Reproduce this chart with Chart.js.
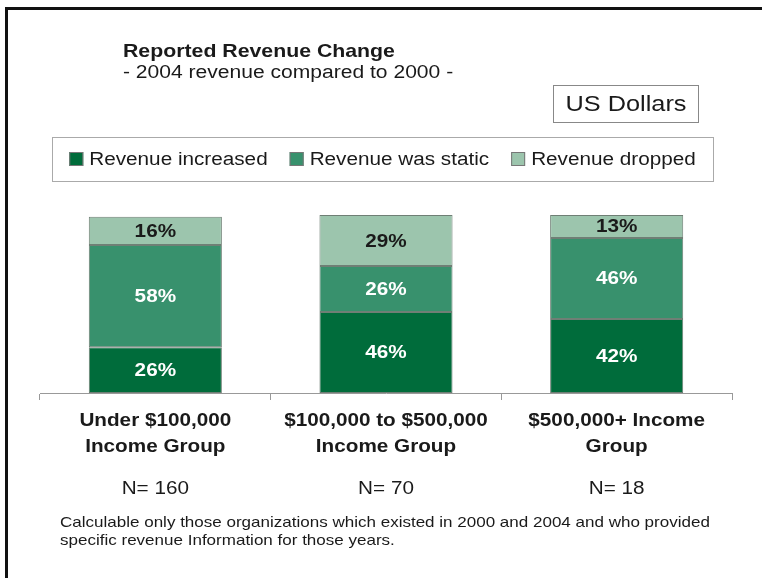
<!DOCTYPE html>
<html>
<head>
<meta charset="utf-8">
<title>Reported Revenue Change</title>
<script src="https://cdn.jsdelivr.net/npm/chart.js@4"></script>
<style>
  body { margin: 0; background: #fff; }
  #wrap { position: relative; width: 762px; height: 578px; }
</style>
</head>
<body>
<div id="wrap"><canvas id="revChart" width="762" height="578"></canvas></div>
<script>
// data
const groups = [['Under $100,000', 'Income Group'], ['$100,000 to $500,000', 'Income Group'], ['$500,000+ Income', 'Group']];
const sampleSizes = ['N= 160', 'N= 70', 'N= 18'];
const increased = [26, 46, 42];
const staticRev = [58, 26, 46];
const dropped = [16, 29, 13];

const FONT = 'Arial, "Liberation Sans", Helvetica, sans-serif';
const TXT = '#1a1a1a';
const SX = 1.15; // the source lettering is stretched sideways

// draw text squeezed/stretched horizontally around its anchor
function wideText(ctx, text, x, y, align, sx) {
    ctx.save();
    ctx.translate(x, y);
    ctx.scale(sx || SX, 1);
    ctx.textAlign = align;
    ctx.textBaseline = 'middle';
    ctx.fillText(text, 0, 0);
    ctx.restore();
}

const decorations = {
    id: 'decorations',
    beforeDraw(chart) {
        const ctx = chart.ctx;
        // frame (top and left only)
        ctx.save();
        ctx.fillStyle = '#111';
        ctx.fillRect(5, 7, 757, 3);
        ctx.fillRect(5, 7, 3, 571);
        ctx.restore();
    },
    afterDatasetsDraw(chart) {
        const ctx = chart.ctx;
        ctx.save();
        ctx.font = 'bold 18px ' + FONT;
        chart.data.datasets.forEach((ds, di) => {
            chart.getDatasetMeta(di).data.forEach((bar, i) => {
                ctx.fillStyle = di === 2 ? TXT : '#fff';
                wideText(ctx, ds.data[i] + '%', bar.x, (bar.y + bar.base) / 2 + 1, 'center');
            });
        });
        ctx.restore();
    },
    afterDraw(chart) {
        const ctx = chart.ctx;
        const x = chart.scales.x;
        ctx.save();
        ctx.fillStyle = TXT;

        // title
        ctx.font = 'bold 18.5px ' + FONT;
        wideText(ctx, 'Reported Revenue Change', 123, 52, 'left');
        ctx.font = '18px ' + FONT;
        wideText(ctx, '- 2004 revenue compared to 2000 -', 123, 73, 'left', 1.17);

        // unit box
        ctx.strokeStyle = '#888';
        ctx.lineWidth = 1;
        ctx.strokeRect(553.5, 85.5, 145, 37);
        ctx.font = '22px ' + FONT;
        wideText(ctx, 'US Dollars', 626, 105, 'center');

        // legend box
        ctx.strokeStyle = '#aaa';
        ctx.strokeRect(52.5, 137.5, 661, 44);
        ctx.font = '18px ' + FONT;
        const items = chart.data.datasets.map(d => ({ label: d.label, color: d.backgroundColor, w: ctx.measureText(d.label).width * SX }));
        const box = 14, gap = 6, sep = 22;
        const total = items.reduce((s, it) => s + box + gap + it.w, 0) + sep * (items.length - 1);
        let lx = 52 + (661 - total) / 2;
        items.forEach(it => {
            ctx.fillStyle = it.color;
            ctx.fillRect(lx, 152, box, box);
            ctx.strokeStyle = '#777';
            ctx.strokeRect(lx + 0.5, 152.5, box - 1, box - 1);
            ctx.fillStyle = TXT;
            wideText(ctx, it.label, lx + box + gap, 160, 'left');
            lx += box + gap + it.w + sep;
        });

        // group names and sample sizes under each bar
        groups.forEach((lines, i) => {
            const cx = x.getPixelForTick(i);
            ctx.font = 'bold 18px ' + FONT;
            lines.forEach((t, j) => wideText(ctx, t, cx, 421 + j * 26, 'center'));
            ctx.font = '18px ' + FONT;
            wideText(ctx, sampleSizes[i], cx, 489, 'center');
        });

        // footnote
        ctx.font = '14.8px ' + FONT;
        wideText(ctx, 'Calculable only those organizations which existed in 2000 and 2004 and who provided', 60, 523, 'left');
        wideText(ctx, 'specific revenue Information for those years.', 60, 541, 'left');
        ctx.restore();
    }
};

new Chart(document.getElementById('revChart'), {
    type: 'bar',
    data: {
        labels: groups.map(g => g.join(' ')),
        datasets: [
            { label: 'Revenue increased', data: increased, backgroundColor: '#006c3b' },
            { label: 'Revenue was static', data: staticRev, backgroundColor: '#38916d' },
            { label: 'Revenue dropped', data: dropped, backgroundColor: '#9cc5ad' }
        ]
    },
    options: {
        responsive: false,
        animation: false,
        devicePixelRatio: 1,
        layout: { padding: { left: 40, right: 30, top: 215, bottom: 178 } },
        datasets: {
            bar: {
                barPercentage: 0.577,
                categoryPercentage: 1,
                borderColor: '#6f7f75',
                borderWidth: 1,
                borderSkipped: false
            }
        },
        scales: {
            x: {
                stacked: true,
                offset: true,
                grid: { display: true, drawOnChartArea: false, drawTicks: true, tickLength: 7, color: '#999' },
                border: { display: true, color: '#999' },
                ticks: { display: false }
            },
            y: {
                stacked: true,
                display: false,
                min: 0,
                max: 101
            }
        },
        plugins: {
            legend: { display: false },
            tooltip: { enabled: false }
        }
    },
    plugins: [decorations]
});
</script>
</body>
</html>
